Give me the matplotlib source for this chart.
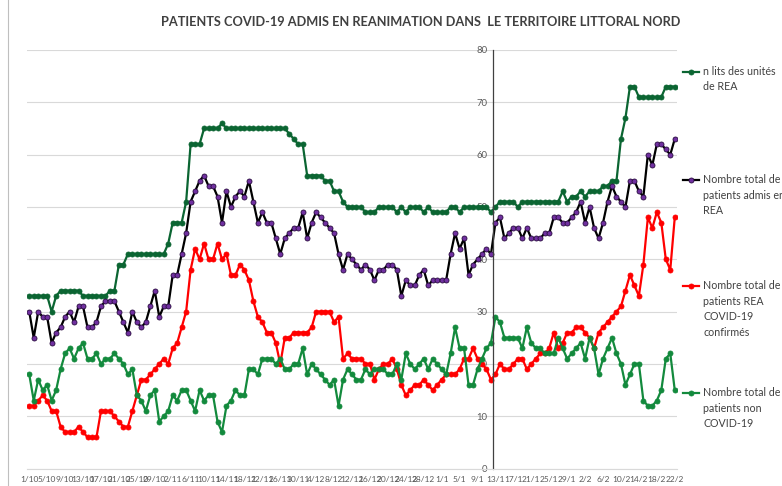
import matplotlib
matplotlib.use('Agg')
import matplotlib.pyplot as plt
from matplotlib.lines import Line2D
import numpy as np
import pandas as pd

# axe des dates : du 1/10 au 22/2, une étiquette tous les 4 jours
jours = pd.date_range('2020-10-01', '2021-02-22', freq='D')
etiquettes = [f'{d.day}/{d.month}' for d in jours]

lits_rea = [33, 33, 33, 33, 33, 30, 33, 34, 34, 34,
            34, 34, 33, 33, 33, 33, 33, 33, 34, 34,
            39, 39, 41, 41, 41, 41, 41, 41, 41, 41,
            41, 43, 47, 47, 47, 51, 62, 62, 62, 65,
            65, 65, 65, 66, 65, 65, 65, 65, 65, 65,
            65, 65, 65, 65, 65, 65, 65, 65, 64, 63,
            62, 62, 56, 56, 56, 56, 55, 55, 53, 53,
            51, 50, 50, 50, 50, 49, 49, 49, 50, 50,
            50, 50, 49, 50, 49, 50, 50, 50, 49, 50,
            49, 49, 49, 49, 50, 50, 49, 50, 50, 50,
            50, 50, 50, 49, 50, 51, 51, 51, 51, 50,
            51, 51, 51, 51, 51, 51, 51, 51, 51, 53,
            51, 52, 52, 53, 52, 53, 53, 53, 54, 54,
            55, 55, 63, 67, 73, 73, 71, 71, 71, 71,
            71, 71, 73, 73, 73]

admis_rea = [30, 25, 30, 29, 29, 24, 26, 27, 29, 30,
             28, 31, 31, 27, 27, 28, 31, 32, 32, 32,
             30, 28, 26, 30, 28, 27, 28, 31, 34, 29,
             31, 31, 37, 37, 41, 45, 51, 53, 55, 56,
             54, 54, 52, 47, 53, 50, 52, 53, 52, 55,
             51, 47, 49, 47, 47, 44, 41, 44, 45, 46,
             46, 49, 44, 47, 49, 48, 47, 46, 45, 41,
             38, 41, 40, 39, 38, 39, 38, 36, 38, 38,
             39, 39, 38, 33, 36, 35, 35, 37, 38, 35,
             36, 36, 36, 36, 41, 45, 42, 44, 37, 39,
             40, 41, 42, 41, 47, 48, 44, 45, 46, 46,
             44, 46, 44, 44, 44, 45, 45, 48, 48, 47,
             47, 48, 49, 51, 47, 50, 46, 44, 47, 51,
             54, 52, 51, 50, 55, 55, 53, 52, 60, 58,
             62, 62, 61, 60, 63]

covid_rea = [12, 12, 13, 14, 13, 11, 11, 8, 7, 7,
             7, 8, 7, 6, 6, 6, 11, 11, 11, 10,
             9, 8, 8, 11, 14, 17, 17, 18, 19, 20,
             21, 20, 23, 24, 27, 30, 38, 42, 40, 43,
             40, 40, 43, 40, 41, 37, 37, 39, 38, 36,
             32, 29, 28, 26, 26, 24, 20, 25, 25, 26,
             26, 26, 26, 27, 30, 30, 30, 30, 28, 29,
             21, 22, 21, 21, 21, 20, 20, 17, 19, 20,
             20, 21, 19, 16, 14, 15, 16, 16, 17, 16,
             15, 16, 17, 18, 18, 18, 19, 21, 21, 23,
             21, 20, 19, 17, 18, 20, 19, 19, 20, 21,
             21, 19, 20, 21, 22, 22, 23, 26, 23, 24,
             26, 26, 27, 27, 26, 25, 23, 26, 27, 28,
             29, 30, 31, 34, 37, 35, 33, 39, 48, 46,
             49, 47, 40, 38, 48]

non_covid = [18, 13, 17, 15, 16, 13, 15, 19, 22, 23,
             21, 23, 24, 21, 21, 22, 20, 21, 21, 22,
             21, 20, 18, 19, 14, 13, 11, 14, 15, 9,
             10, 11, 14, 13, 15, 15, 13, 11, 15, 13,
             14, 14, 9, 7, 12, 13, 15, 14, 14, 19,
             19, 18, 21, 21, 21, 20, 21, 19, 19, 20,
             20, 23, 18, 20, 19, 18, 17, 16, 17, 12,
             17, 19, 18, 17, 17, 19, 18, 19, 19, 19,
             18, 18, 20, 17, 22, 20, 19, 20, 21, 19,
             21, 20, 19, 18, 22, 27, 23, 23, 16, 16,
             19, 21, 23, 24, 29, 28, 25, 25, 25, 25,
             23, 27, 24, 23, 23, 22, 22, 22, 25, 23,
             21, 22, 23, 24, 21, 25, 23, 18, 21, 23,
             25, 22, 20, 16, 18, 20, 20, 13, 12, 12,
             13, 15, 21, 22, 15]

libelles = ['n lits des unités\nde REA',
            'Nombre total de\npatients admis en\nREA',
            'Nombre total de\npatients REA\nCOVID-19\nconfirmés',
            'Nombre total de\npatients non\nCOVID-19']

plt.rcParams['font.family'] = ['Lato', 'DejaVu Sans']

W, H = 782, 486
fig = plt.figure(figsize=(W / 100, H / 100), dpi=100)
ax = fig.add_axes([27 / W, 1 - 468.6 / H, 650 / W, 418.6 / H])

x = np.arange(len(jours))
# (valeurs, couleur ligne, remplissage marqueur, bord marqueur)
styles = [(lits_rea, '#0b6532', '#0b6532', '#0b6532'),
          (admis_rea, '#000000', '#7030a0', '#2a0d40'),
          (covid_rea, '#ff0000', '#ff0000', '#ff0000'),
          (non_covid, '#138a3d', '#138a3d', '#138a3d')]

for vals, lc, mfc, mec in styles:
    ax.plot(x, vals, color=lc, lw=1.6, marker='o', ms=3.6,
            mfc=mfc, mec=mec, mew=0.6)

ax.set_xlim(-0.5, len(x) - 0.5)
ax.set_ylim(0, 80)
ax.set_yticks(range(0, 81, 10))
ax.yaxis.grid(True, color='#d9d9d9', lw=0.8)
ax.set_axisbelow(True)
ax.set_xticks(x[::4])
ax.set_xticklabels(etiquettes[::4])
ax.tick_params(axis='x', length=0, labelsize=6, colors='#595959', pad=5)
ax.tick_params(axis='y', length=0, labelsize=6.8, colors='#595959', pad=4)
ax.spines['top'].set_visible(False)
ax.spines['right'].set_visible(False)
ax.spines['bottom'].set_color('#d9d9d9')
# l'axe vertical croise au 13/1
ax.spines['left'].set_position(('data', 103.5))
ax.spines['left'].set_color('#404040')
ax.spines['left'].set_linewidth(0.9)

# bord gauche de la zone du graphique
fig.add_artist(Line2D([8 / W, 8 / W], [0, 1], color='#bfbfbf', lw=0.8))

fig.text(421 / W, 1 - 22 / H,
         'PATIENTS COVID-19 ADMIS EN REANIMATION DANS  LE TERRITOIRE LITTORAL NORD',
         ha='center', va='center', fontsize=9.2, fontweight='bold', color='#404040')

# légende à droite, faite à la main
for (vals, lc, mfc, mec), lab, hy in zip(styles, libelles, [72, 180, 286, 393]):
    yy = 1 - hy / H
    fig.add_artist(Line2D([683 / W, 699 / W], [yy, yy], color=lc, lw=1.6))
    fig.add_artist(Line2D([691 / W], [yy], marker='o', ms=3.6, ls='',
                          mfc=mfc, mec=mec, mew=0.6))
    fig.text(703 / W, 1 - (hy - 6) / H, lab, ha='left', va='top',
             fontsize=7.7, color='#404040', linespacing=1.5)

fig.savefig('out.png', dpi=100)
